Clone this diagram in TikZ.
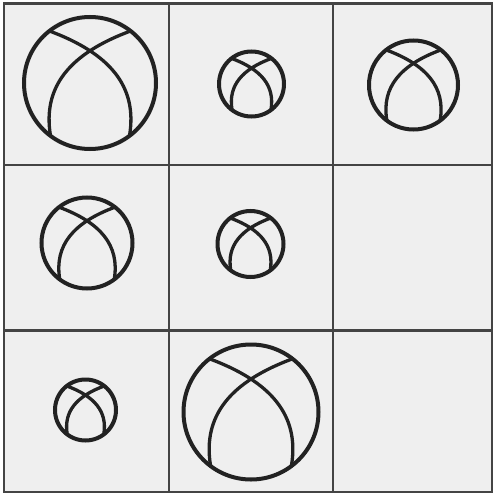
\documentclass[tikz,border=0pt]{standalone}
\usetikzlibrary{positioning}
\definecolor{PaperGray}{HTML}{EFEFEF}
\definecolor{InkGray}{HTML}{222222}
\definecolor{GridGray}{HTML}{444444}
\tikzset{
  gridline/.style={draw=GridGray, line width=2.3pt},
  ballring/.style={draw=InkGray, line width=4pt, circle, inner sep=0pt, outer sep=0pt},
  ballseam/.style={draw=InkGray, line width=3.3pt}
}
% name, x, y, radius (px)
\newcommand{\ballmark}[4]{%
  \node[ballring, minimum size=2*#4pt] (#1) at (#2,#3) {};
  \begin{scope}[shift={(#1.center)}, scale=#4]
    \draw[ballseam] (-0.62,-0.79) .. controls (0.3,-0.45) and (0.72,0.05) .. (0.6,0.79);
    \draw[ballseam] (0.62,-0.79) .. controls (-0.3,-0.45) and (-0.72,0.05) .. (-0.6,0.79);
  \end{scope}}
\begin{document}
\begin{tikzpicture}[x=1pt, y=-1pt]
\useasboundingbox (0,0) rectangle (494,495);
\fill[white] (0,0) rectangle (494,495);
\fill[PaperGray] (4,3.5) rectangle (492,492);

% grid
\draw[gridline] (4,3.5) rectangle (492,492);
\draw[gridline] (169,3.5) -- (169,492);
\draw[gridline] (333,3.5) -- (333,492);
\draw[gridline] (4,165) -- (492,165);
\draw[gridline] (4,330.5) -- (492,330.5);

% top row
\ballmark{ballA}{90}{83}{66}
\ballmark{ballB}{251.5}{84}{32.5}
\ballmark{ballC}{413.5}{85}{44.5}
% middle row
\ballmark{ballD}{87}{243}{45.5}
\ballmark{ballE}{250.5}{244}{33}
% bottom row
\ballmark{ballF}{85.5}{410}{30.5}
\ballmark{ballG}{251}{412}{67.5}
\end{tikzpicture}
\end{document}
